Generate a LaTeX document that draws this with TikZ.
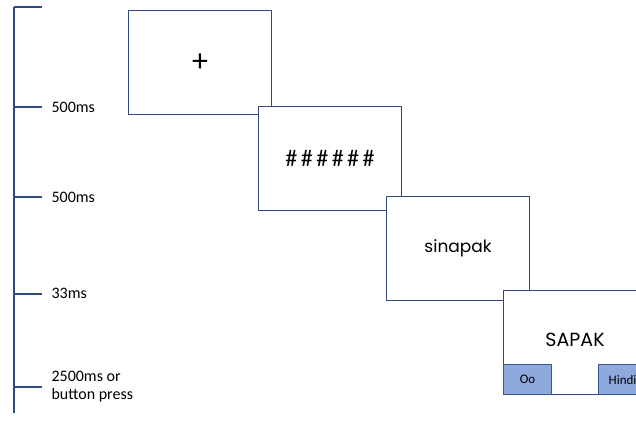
\documentclass[tikz,border=0pt]{standalone}
\usepackage{fontspec}
\usepackage{xcolor}
\setmainfont{Carlito}
\newfontfamily\wordfont{Poppins}
\definecolor{frameblue}{HTML}{2F4A7C}
\definecolor{keyblue}{HTML}{8EA9DB}
\definecolor{keyline}{HTML}{3A5A94}

\begin{document}
\begin{tikzpicture}[x=1pt,y=-1pt]
    \tikzset{screen/.style = {draw=frameblue,fill=white,line width=1.1pt,
                 minimum width=143pt,minimum height=104pt,inner sep=0pt,anchor=north west},
             key/.style = {draw=keyline,fill=keyblue,line width=1pt,
                 minimum width=48pt,minimum height=30pt,inner sep=0pt,
                 font=\fontsize{13}{15}\selectfont},
             dur/.style = {anchor=west,align=left,font=\fontsize{16}{18}\selectfont}}
    \useasboundingbox (0,0) rectangle (636,423);
    \clip (0,0) rectangle (636,423);
    % time line with one tick per screen
    \draw[frameblue,line width=1.3pt] (14,7) -- (14,413);
    \foreach \y in {7,107,197,294,387}
        \draw[frameblue,line width=1.3pt] (14,\y) -- (42,\y);
    \node[dur] (fixtime) at (48,107) {500ms};
    \node[dur] (masktime) at (48,197) {500ms};
    \node[dur] (primetime) at (48,293) {33ms};
    \node[dur] (targettime) at (48,387) {2500ms or\\button press};
    % screens
    \node[screen] (fix) at (128,10) {\raisebox{-2pt}{\fontsize{32}{34}\selectfont +}};
    \node[screen] (mask) at (258,106)
        {\raisebox{-2pt}{\fontsize{24}{26}\selectfont\#\kern3.5pt\#\kern3.5pt\#\kern3.5pt\#\kern3.5pt\#\kern3.5pt\#}};
    \node[screen] (prime) at (386,196) {\raisebox{-4pt}{\wordfont\fontsize{17}{20}\selectfont sinapak}};
    \node[screen,text depth=0pt] (target) at (503,290)
        {\raisebox{6pt}{\wordfont\fontsize{19}{22}\selectfont SAPAK}};
    \node[key,anchor=south west] (keyleft) at (target.south west) {Oo};
    \node[key,anchor=south east] (keyright) at (target.south east) {Hindi};
\end{tikzpicture}
\end{document}
